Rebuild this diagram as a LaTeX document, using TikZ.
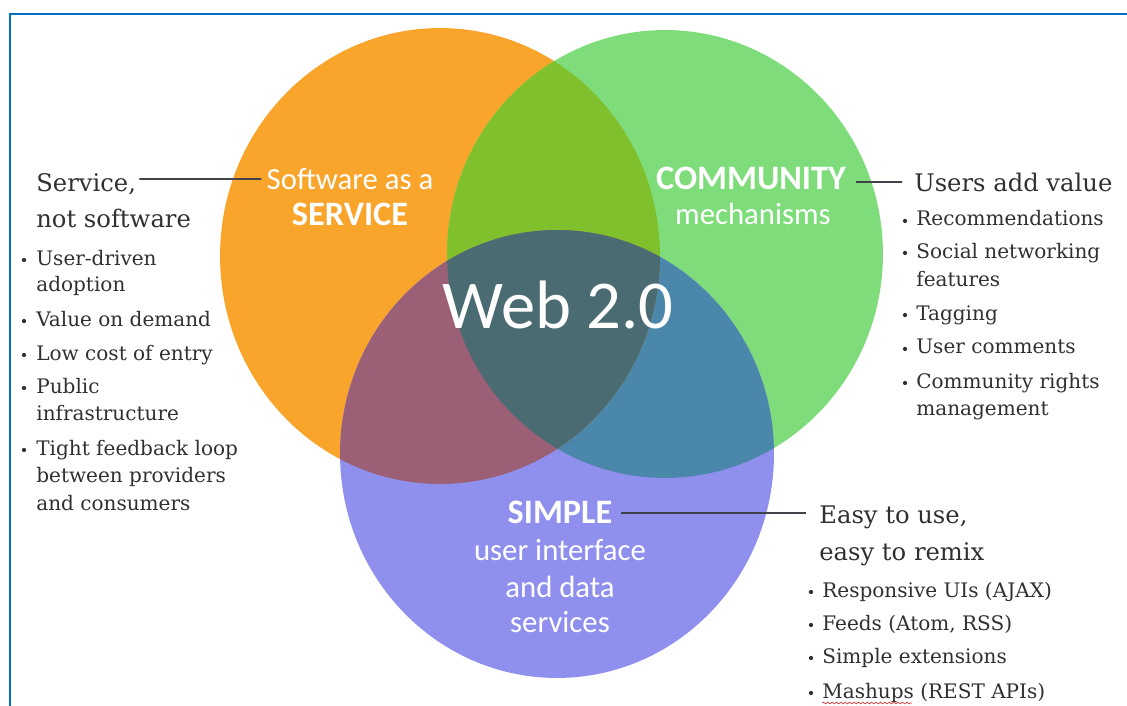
\documentclass[tikz,border=0pt]{standalone}
\usepackage{fontspec}
\setmainfont{DejaVu Serif}
\newfontfamily\bubblefont{Carlito}
\usetikzlibrary{decorations.pathmorphing}

\definecolor{colsaas}{RGB}{249,164,43}
\definecolor{colcomm}{RGB}{126,221,122}
\definecolor{colsimple}{RGB}{143,143,238}
\definecolor{colsaascomm}{RGB}{128,192,44}
\definecolor{colsaassimple}{RGB}{155,96,118}
\definecolor{colcommsimple}{RGB}{75,135,171}
\definecolor{colcore}{RGB}{75,107,115}
\definecolor{framecol}{RGB}{0,112,192}
\definecolor{textgray}{RGB}{48,48,48}
\definecolor{leadcol}{RGB}{66,66,76}
\definecolor{spellred}{RGB}{220,60,60}

\def\saascircle{(440,256) ellipse [x radius=4.4cm, y radius=4.56cm]}
\def\commcircle{(665,254) ellipse [x radius=4.36cm, y radius=4.48cm]}
\def\simplecircle{(557,454) ellipse [x radius=4.34cm, y radius=4.48cm]}

\begin{document}
\begin{tikzpicture}[x=0.02cm, y=-0.02cm,
	bubble/.style={font=\bubblefont\fontsize{17.5}{20}\selectfont, text=white, inner sep=0pt, anchor=base},
	bubblebold/.style={bubble, font=\bubblefont\bfseries\fontsize{19.5}{22}\selectfont},
	headline/.style={font=\fontsize{13.8}{16}\selectfont, text=textgray, inner sep=0pt, anchor=base west},
	itemtext/.style={font=\fontsize{11.4}{13}\selectfont, text=textgray, inner sep=0pt, anchor=base west},
	dot/.style={circle, fill=textgray, inner sep=0pt, minimum size=0.085cm},
	leader/.style={draw=leadcol, line width=0.035cm}]
	\useasboundingbox (0,0) rectangle (1127,706);

	% the three circles
	\fill[colsaas] \saascircle;
	\fill[colcomm] \commcircle;
	\fill[colsimple] \simplecircle;

	% overlaps
	\begin{scope}
		\clip \commcircle;
		\fill[colcommsimple] \simplecircle;
	\end{scope}
	\begin{scope}
		\clip \saascircle;
		\fill[colsaascomm] \commcircle;
		\fill[colsaassimple] \simplecircle;
		\clip \commcircle;
		\fill[colcore] \simplecircle;
	\end{scope}

	% frame
	\draw[framecol, line width=0.04cm] (10,706) -- (10,14) -- (1127,14);

	% circle labels
	\node[bubble] (saas) at (350,190) {Software as a};
	\node[bubblebold] (service) at (350,226) {SERVICE};
	\node[bubblebold] (comm) at (751,190) {COMMUNITY};
	\node[bubble] (mech) at (753,225) {mechanisms};
	\node[bubblebold] (simple) at (560,523) {SIMPLE};
	\foreach \t/\y [count=\i] in {user interface/560, and data/597, services/632}
		\node[bubble] (ui\i) at (560,\y) {\t};
	\node[bubble, font=\bubblefont\fontsize{39}{44}\selectfont] (web) at (558,328) {Web 2.0};

	% left list
	\node[headline] (svc1) at (36,192) {Service,};
	\node[headline] (svc2) at (36,228) {not software};
	\foreach \t/\y/\b [count=\i] in {User-driven/265/1, adoption/292/0, Value on demand/326/1,
			Low cost of entry/360/1, Public/393/1, infrastructure/420/0,
			Tight feedback loop/455/1, between providers/482/0, and consumers/510/0} {
		\node[itemtext] (sv\i) at (36,\y) {\t};
		\ifnum\b=1 \node[dot] (svdot\i) at (24,\y-5) {}; \fi
	};

	% right list
	\node[headline] (users) at (914,192) {Users add value};
	\foreach \t/\y/\b [count=\i] in {Recommendations/226/1, Social networking/258/1, features/286/0,
			Tagging/320/1, User comments/354/1, Community rights/388/1, management/415/0} {
		\node[itemtext] (cm\i) at (916,\y) {\t};
		\ifnum\b=1 \node[dot] (cmdot\i) at (905,\y-5) {}; \fi
	};

	% bottom list
	\node[headline] (easy1) at (819,523) {Easy to use,};
	\node[headline] (easy2) at (819,560) {easy to remix};
	\foreach \t/\y [count=\i] in {Responsive UIs (AJAX)/597, {Feeds (Atom, RSS)}/630,
			Simple extensions/663, Mashups (REST APIs)/698} {
		\node[itemtext] (sp\i) at (822,\y) {\t};
		\node[dot] (spdot\i) at (811,\y-5) {};
	};
	\draw[spellred, line width=0.4pt, decorate, decoration={snake, amplitude=0.5pt, segment length=2.5pt}]
		([yshift=-0.1cm]sp4.base west) -- ++(1.8cm,0);

	% leaders
	\draw[leader] ([shift={(0.06cm,0.26cm)}]svc1.base east) -- ([shift={(-0.1cm,0.22cm)}]saas.base west);
	\draw[leader] ([shift={(0.2cm,0.16cm)}]comm.base east) -- ([shift={(-0.24cm,0.2cm)}]users.base west);
	\draw[leader] ([shift={(0.16cm,0.2cm)}]simple.base east) -- ([shift={(-0.26cm,0.2cm)}]easy1.base west);
\end{tikzpicture}
\end{document}
